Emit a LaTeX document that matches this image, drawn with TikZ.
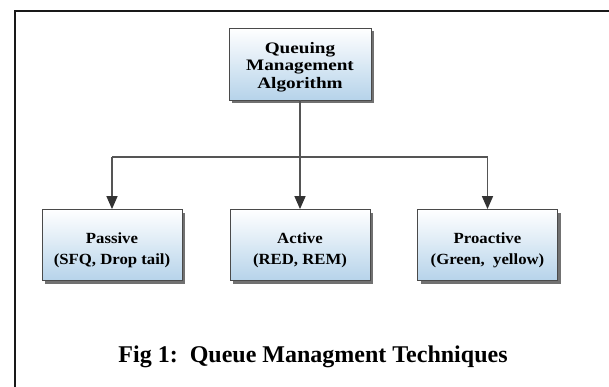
\documentclass[tikz,border=0pt]{standalone}
\usepackage{fontspec}
\setmainfont{Liberation Serif}
\newfontfamily\wideA[FakeStretch=1.2]{Liberation Serif}
\newfontfamily\wideB[FakeStretch=1.08]{Liberation Serif}
\usetikzlibrary{arrows.meta,shadows}
\definecolor{boxblue}{HTML}{B6D3EA}
\definecolor{edgegray}{HTML}{4A4A4A}
\definecolor{linegray}{HTML}{555555}
\newcommand{\pushdown}[1]{\rule{0pt}{#1}}
\tikzset{
  qbox/.style={draw=edgegray, line width=0.8pt, rectangle, top color=white, bottom color=boxblue,
    minimum width=140pt, minimum height=71pt, align=center, inner sep=2pt,
    drop shadow={shadow xshift=3pt, shadow yshift=-3pt, fill=black!65, opacity=0.85}},
  topfont/.style={font=\wideA\fontsize{16}{17.5}\selectfont\bfseries},
  leaffont/.style={font=\wideB\fontsize{15.5}{21}\selectfont\bfseries},
  conn/.style={draw=linegray, line width=1.4pt},
  arr/.style={conn, -{Triangle[length=13pt,width=11pt,fill=black!80,color=black!80]}}
}
\begin{document}
\begin{tikzpicture}[x=1pt,y=-1pt]
\useasboundingbox (0,0) rectangle (609,387);
\fill[white] (0,0) rectangle (609,387);
% frame
\draw[line width=2pt, black!90] (15,387) -- (15,11) -- (609,11);
% nodes
\node[qbox, topfont, minimum width=142pt, minimum height=72pt] (top) at (300,64) {\pushdown{17pt}Queuing\\Management\\Algorithm};
\node[qbox, leaffont] (pas) at (112,245) {\pushdown{21pt}Passive\\(SFQ, Drop tail)};
\node[qbox, leaffont] (act) at (300,245) {\pushdown{21pt}Active\\(RED, REM)};
\node[qbox, leaffont] (pro) at (487.5,245) {\pushdown{21pt}Proactive\\(Green,\ \ yellow)};
% connectors
\coordinate (j) at (300,157);
\coordinate (jl) at (pas.north |- j);
\coordinate (jr) at (pro.north |- j);
\draw[conn] (top.south) -- (top.south |- j);
\draw[conn] (jl) -- (jr);
\draw[arr] (jl) -- (pas.north);
\draw[arr] (act.north |- j) -- (act.north);
\draw[arr] (jr) -- (pro.north);
% caption
\node[font=\fontsize{24}{28}\selectfont\bfseries, anchor=base] (cap) at (313,362) {Fig 1:\ \ Queue Managment Techniques};
\end{tikzpicture}
\end{document}
